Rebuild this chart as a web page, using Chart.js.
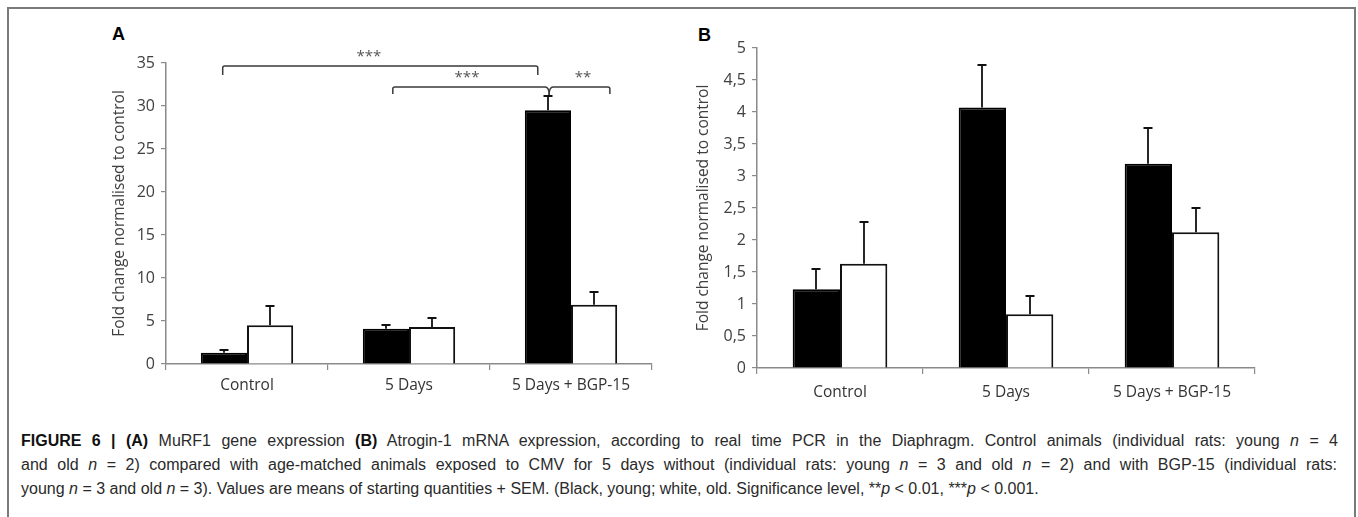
<!DOCTYPE html>
<html><head><meta charset="utf-8">
<script src="https://cdn.jsdelivr.net/npm/chart.js@4"></script>
<style>
html,body{margin:0;padding:0;background:#fff}
body{width:1358px;height:517px;overflow:hidden;position:relative;font-family:"Liberation Sans",Arial,sans-serif}
#frame{position:absolute;left:7px;top:7px;width:1349px;height:530px;border:2px solid #7a7a7a;box-sizing:border-box}
#wa{position:absolute;left:20px;top:20px;width:650px;height:390px}
#wb{position:absolute;left:680px;top:10px;width:600px;height:400px}
.letter{position:absolute;font:bold 18px "Liberation Sans",Arial,sans-serif;line-height:18px;color:#000}
.cap{position:absolute;left:21px;white-space:nowrap;font-size:16px;line-height:24px;color:#2a2a2a}
.cap b{color:#111}
</style>
</head><body>
<div id="frame"></div>
<div class="letter" style="left:112px;top:25px">A</div>
<div class="letter" style="left:698px;top:26px">B</div>
<div id="wa"><canvas id="ca" width="650" height="390"></canvas></div>
<div id="wb"><canvas id="cb" width="600" height="400"></canvas></div>
<div class="cap" id="l1" data-w="1317" style="top:429px"><b>FIGURE 6 | (A)</b> MuRF1 gene expression <b>(B)</b> Atrogin-1 mRNA expression, according to real time PCR in the Diaphragm. Control animals (individual rats: young <i>n</i> = 4</div>
<div class="cap" id="l2" data-w="1316" style="top:453px">and old <i>n</i> = 2) compared with age-matched animals exposed to CMV for 5 days without (individual rats: young <i>n</i> = 3 and old <i>n</i> = 2) and with BGP-15 (individual rats:</div>
<div class="cap" id="l3" style="top:477px">young <i>n</i> = 3 and old <i>n</i> = 3). Values are means of starting quantities + SEM. (Black, young; white, old. Significance level, **<i>p</i> &lt; 0.01, ***<i>p</i> &lt; 0.001.</div>
<script>
// ---- data ----
const categories = ['Control', '5 Days', '5 Days + BGP-15'];
const seriesNames = ['Young', 'Old'];
// Panel A: MuRF1
const youngA = [1.3, 4.1, 29.5];
const oldA = [4.5, 4.3, 6.9];
const youngSemA = [0.35, 0.45, 1.7];
const oldSemA = [2.2, 1.05, 1.5];
// Panel B: Atrogin-1
const youngB = [1.23, 4.07, 3.19];
const oldB = [1.63, 0.84, 2.12];
const youngSemB = [0.32, 0.66, 0.56];
const oldSemB = [0.65, 0.29, 0.38];
// significance brackets (panel A), x in category units, level in axis units
const bracketStart = [-0.15, 0.9, 1.865];
const bracketEnd = [1.795, 1.865, 2.24];
const bracketLevel = [34.65, 32.2, 32.2];
const bracketLabel = ['***', '***', '**'];
const bracketLabelAt = [0.753, 1.358, 2.074];
const yTicksA = {min: 0, max: 35, step: 5};
const yTicksB = {min: 0, max: 5, step: 0.5};
const yTitle = 'Fold change normalised to control';

// ---- plugin: SEM error bars and brackets ----
const extras = {
  id: 'extras',
  afterDatasetsDraw(chart, args, o) {
    const ctx = chart.ctx, ys = chart.scales.y, xs = chart.scales.x;
    ctx.save();
    ctx.strokeStyle = '#111';
    ctx.lineWidth = 1.8;
    o.sems.forEach((sem, di) => {
      const meta = chart.getDatasetMeta(di);
      meta.data.forEach((bar, i) => {
        const v = chart.data.datasets[di].data[i];
        const yt = Math.round(ys.getPixelForValue(v + sem[i]));
        const x = Math.round(bar.x);
        ctx.beginPath();
        ctx.moveTo(x, bar.y);
        ctx.lineTo(x, yt);
        ctx.moveTo(x - 4.5, yt);
        ctx.lineTo(x + 4.5, yt);
        ctx.stroke();
      });
    });
    if (o.brackets) {
      const b = o.brackets;
      ctx.strokeStyle = '#3a3a3a';
      ctx.lineWidth = 1.5;
      ctx.fillStyle = '#555';
      ctx.font = '15px "Open Sans"';
      ctx.textAlign = 'center';
      ctx.textBaseline = 'middle';
      b.start.forEach((s, k) => {
        const x0 = xs.getPixelForValue(s), x1 = xs.getPixelForValue(b.end[k]);
        const yl = ys.getPixelForValue(b.level[k]);
        const leg = k === 0 ? 9 : 7;
        const joinStart = b.end.some((e, j) => j !== k && e === s);
        const joinEnd = b.start.some((e, j) => j !== k && e === b.end[k]);
        ctx.beginPath();
        if (joinStart) {
          ctx.moveTo(x0, yl + 8);
          ctx.quadraticCurveTo(x0, yl, x0 + 4, yl);
        } else {
          ctx.moveTo(x0, yl + leg);
          ctx.lineTo(x0, yl + 2);
          ctx.quadraticCurveTo(x0, yl, x0 + 2, yl);
        }
        if (joinEnd) {
          ctx.lineTo(x1 - 4, yl);
          ctx.quadraticCurveTo(x1, yl, x1, yl + 8);
        } else {
          ctx.lineTo(x1 - 2, yl);
          ctx.quadraticCurveTo(x1, yl, x1, yl + 2);
          ctx.lineTo(x1, yl + leg);
        }
        ctx.stroke();
        ctx.fillText(b.label[k], xs.getPixelForValue(b.labelAt[k]), yl - 9);
      });
    }
    ctx.restore();
  }
};

function makeChart(id, young, old, ySem, oSem, yt, dims, brackets) {
  const fmt = v => String(Math.round(v * 10) / 10).replace('.', ',');
  return new Chart(document.getElementById(id), {
    type: 'bar',
    data: {
      labels: categories,
      datasets: [
        {label: seriesNames[0], data: young, backgroundColor: '#000', borderColor: '#000', borderWidth: 2},
        {label: seriesNames[1], data: old, backgroundColor: '#fff', borderColor: '#111', borderWidth: 2}
      ]
    },
    options: {
      responsive: false,
      animation: false,
      events: [],
      datasets: {bar: {categoryPercentage: 0.57, barPercentage: 1.0}},
      layout: {padding: {top: dims.top, right: dims.right, left: 0, bottom: 0}},
      plugins: {
        legend: {display: false},
        tooltip: {enabled: false},
        extras: {sems: [ySem, oSem], brackets: brackets}
      },
      scales: {
        x: {
          grid: {offset: true, drawOnChartArea: false, tickLength: 6, color: '#8a8a8a', lineWidth: 1.2},
          border: {color: '#8a8a8a', width: 1.5},
          ticks: {font: {family: 'Open Sans', size: 15.5}, color: '#333', padding: dims.xp, maxRotation: 0},
          afterFit: s => { s.height = dims.xh; }
        },
        y: {
          min: yt.min, max: yt.max,
          grid: {drawOnChartArea: false, tickLength: 5, color: '#8a8a8a', lineWidth: 1.2},
          border: {color: '#8a8a8a', width: 1.5},
          ticks: {stepSize: yt.step, font: {family: 'Open Sans', size: 16}, color: '#404040', padding: 6, callback: fmt},
          title: {display: true, text: yTitle, font: {family: 'Open Sans', size: 15.5}, color: '#404040', padding: {top: dims.tp, bottom: 0}},
          afterFit: s => { s.width = dims.yw; }
        }
      }
    },
    plugins: [extras]
  });
}

makeChart('ca', youngA, oldA, youngSemA, oldSemA, yTicksA,
  {top: 43, right: 18, xh: 46, yw: 146, tp: 90.7, xp: 6},
  {start: bracketStart, end: bracketEnd, level: bracketLevel, label: bracketLabel, labelAt: bracketLabelAt});
makeChart('cb', youngB, oldB, youngSemB, oldSemB, yTicksB,
  {top: 38, right: 25, xh: 42, yw: 77, tp: 14.7, xp: 9}, null);

// caption: justify the full lines to the measured line width of the reference
document.querySelectorAll('.cap[data-w]').forEach(el => {
  const natural = el.getBoundingClientRect().width;
  const spaces = (el.textContent.match(/ /g) || []).length;
  el.style.wordSpacing = ((+el.dataset.w - natural) / spaces) + 'px';
});
</script>
</body></html>
